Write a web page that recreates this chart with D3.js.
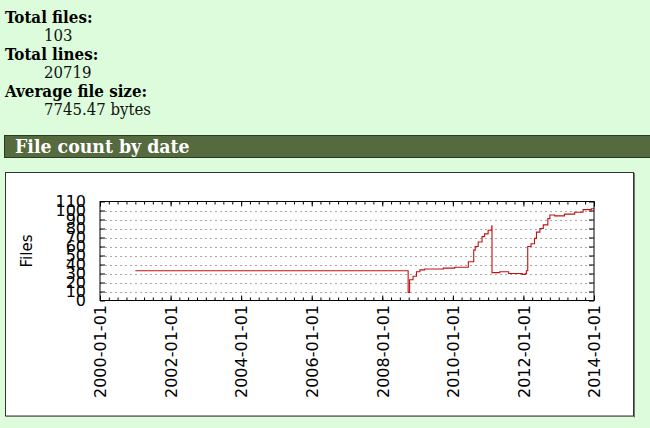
<!DOCTYPE html>
<html>
<head>
<meta charset="utf-8">
<script src="https://cdn.jsdelivr.net/npm/d3@7"></script>
<style>
  html, body { margin: 0; padding: 0; background: #dcfcdc; }
  svg { display: block; }
  .serif { font-family: 'DejaVu Serif Condensed', 'DejaVu Serif', serif; font-stretch: condensed; }
  .axis text { font-family: 'DejaVu Sans', sans-serif; font-size: 16px; fill: #000; }
</style>
</head>
<body>
<svg id="page" width="650" height="428"></svg>
<script>
// ---- summary text ----
const summaryLabels = ["Total files:", "Total lines:", "Average file size:"];
const summaryValues = ["103", "20719", "7745.47 bytes"];
const sectionTitle = "File count by date";
const yAxisTitle = "Files";

// ---- series (date, number of files) ----
const dates = [
  "2001-01-01", "2008-09-25", "2008-10-10", "2008-11-15", "2008-12-20",
  "2009-01-25", "2009-03-15", "2009-09-25", "2010-01-20", "2010-06-10",
  "2010-08-05", "2010-08-20", "2010-09-20", "2010-10-30", "2010-11-25",
  "2011-01-01", "2011-02-08", "2011-02-10", "2011-05-01", "2011-08-01",
  "2011-12-20", "2012-01-20", "2012-02-01", "2012-02-15", "2012-03-20",
  "2012-04-25", "2012-05-15", "2012-06-20", "2012-07-25", "2012-09-10",
  "2012-10-01", "2012-11-20", "2013-03-01", "2013-06-15", "2013-09-10",
  "2013-12-05", "2014-01-01"
];
const files = [
  33, 9, 23, 27, 32,
  34, 35, 36, 37, 43,
  56, 60, 65, 71, 74,
  78, 83, 31, 32, 30,
  29, 30, 33, 60, 63,
  69, 76, 80, 84, 91,
  95, 94, 96, 98, 101,
  102, 103
];

// ---- axis ticks ----
const xTickLabels = ["2000-01-01", "2002-01-01", "2004-01-01", "2006-01-01",
                     "2008-01-01", "2010-01-01", "2012-01-01", "2014-01-01"];
const yTickValues = [0, 10, 20, 30, 40, 50, 60, 70, 80, 90, 100, 110];
const gridValues = [10, 20, 30, 40, 50, 60, 70, 80, 90, 100];

(function () {
const parse = d3.utcParse("%Y-%m-%d");
const svg = d3.select("#page");

// ---- summary block ----
const summary = svg.append("g").attr("class", "serif");
summaryLabels.forEach((lab, i) => {
  summary.append("text").attr("x", 5).attr("y", 23 + i * 36.8)
    .attr("font-size", 16.8).attr("font-weight", "bold").attr("fill", "#000").text(lab);
  summary.append("text").attr("x", 44).attr("y", 41.4 + i * 36.8)
    .attr("font-size", 16.6).attr("fill", "#111").text(summaryValues[i]);
});

// ---- section header bar ----
svg.append("rect").attr("x", 4.5).attr("y", 135.5).attr("width", 700).attr("height", 22)
  .attr("fill", "#566a40").attr("stroke", "#2c3a22").attr("stroke-width", 1);
svg.append("text").attr("class", "serif").attr("x", 15).attr("y", 153)
  .attr("font-size", 19.3).attr("font-weight", "bold").attr("fill", "#fff").text(sectionTitle);

// ---- chart box ----
svg.append("rect").attr("x", 5.5).attr("y", 172.5).attr("width", 628).attr("height", 243.5)
  .attr("fill", "#fff").attr("stroke", "#333").attr("stroke-width", 1);
svg.append("line").attr("x1", 634.5).attr("x2", 634.5).attr("y1", 173).attr("y2", 417.5)
  .attr("stroke", "#777");
svg.append("line").attr("x1", 6).attr("x2", 634.5).attr("y1", 416.5).attr("y2", 416.5)
  .attr("stroke", "#777");

// ---- scales ----
const pLeft = 100, pRight = 594, pTop = 201.5, pBottom = 300.5;
const x = d3.scaleUtc().domain([parse(xTickLabels[0]), parse(xTickLabels[xTickLabels.length - 1])])
  .range([pLeft, pRight]);
const y = d3.scaleLinear().domain([0, 110]).range([pBottom, pTop]);

// grid
svg.append("g").selectAll("line").data(gridValues).join("line")
  .attr("x1", pLeft).attr("x2", pRight)
  .attr("y1", d => Math.round(y(d)) + 0.5).attr("y2", d => Math.round(y(d)) + 0.5)
  .attr("stroke", "#a8a8a8").attr("stroke-width", 1).attr("stroke-dasharray", "2,3");

// x axes (major, inward)
const xMajor = xTickLabels.map(parse);
const xMinor = d3.utcMonth.every(3).range(x.domain()[0], x.domain()[1]);

const xb = svg.append("g").attr("class", "axis").attr("transform", `translate(0,${pBottom})`)
  .call(d3.axisBottom(x).tickValues(xMajor).tickFormat(d3.utcFormat("%Y-%m-%d")).tickSize(-5).tickPadding(0));
xb.select(".domain").remove();
xb.selectAll(".tick line").attr("stroke", "#000");
xb.selectAll(".tick text")
  .attr("transform", "rotate(-90)")
  .attr("text-anchor", "end")
  .attr("x", -4.5).attr("y", 0).attr("dy", "0.36em");

const xt = svg.append("g").attr("class", "axis").attr("transform", `translate(0,${pTop})`)
  .call(d3.axisTop(x).tickValues(xMajor).tickFormat("").tickSize(-5));
xt.select(".domain").remove();

// minor x ticks
[pBottom, pTop].forEach((yy, k) => {
  const g = svg.append("g").attr("transform", `translate(0,${yy})`)
    .call((k === 0 ? d3.axisBottom(x) : d3.axisTop(x)).tickValues(xMinor).tickFormat("").tickSize(-3));
  g.select(".domain").remove();
});

// y axes
const yl = svg.append("g").attr("class", "axis").attr("transform", `translate(${pLeft},0)`)
  .call(d3.axisLeft(y).tickValues(yTickValues).tickSize(-5).tickPadding(14));
yl.select(".domain").remove();
const yr = svg.append("g").attr("transform", `translate(${pRight},0)`)
  .call(d3.axisRight(y).tickValues(yTickValues).tickFormat("").tickSize(-5));
yr.select(".domain").remove();

// plot border
svg.append("rect").attr("x", pLeft).attr("y", pTop).attr("width", pRight - pLeft).attr("height", pBottom - pTop)
  .attr("fill", "none").attr("stroke", "#000").attr("stroke-width", 1);

// y title
svg.append("text").attr("class", "axis")
  .attr("transform", `translate(27,${(pTop + pBottom) / 2}) rotate(-90)`)
  .attr("text-anchor", "middle").attr("dy", "0.35em")
  .attr("font-family", "'DejaVu Sans', sans-serif").attr("font-size", 15).text(yAxisTitle);

// series line
const series = dates.map((d, i) => ({ date: parse(d), value: files[i] }));
svg.append("path").datum(series)
  .attr("fill", "none").attr("stroke", "#c41010").attr("stroke-width", 1.1)
  .attr("d", d3.line().curve(d3.curveStepAfter).x(d => x(d.date)).y(d => y(d.value)));
})();
</script>
</body>
</html>
